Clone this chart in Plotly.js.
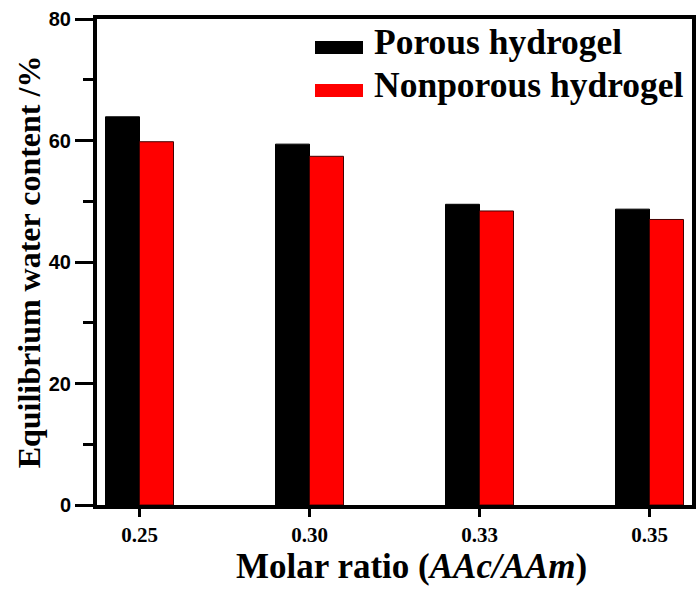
<!DOCTYPE html>
<html>
<head>
<meta charset="utf-8">
<script src="https://cdn.plot.ly/plotly-3.0.1.min.js"></script>
<style>html,body{margin:0;padding:0;background:#fff;}#chart{width:696px;height:590px;}</style>
</head>
<body>
<div id="chart"></div>
<script>
const categories = ["0.25", "0.30", "0.33", "0.35"];
const porous = [63.9, 59.4, 49.5, 48.7];
const nonporous = [59.8, 57.4, 48.4, 47.0];
const seriesNames = ["Porous hydrogel", "Nonporous hydrogel"];
const seriesColors = ["#000000", "#ff0000"];
const yTicks = [0, 20, 40, 60, 80];

const L = 97, R = 692, T = 19, B = 505;
const px = x => (x - L) / (R - L);
const py = y => (B - y) / (B - T);

const serif = "Liberation Serif, Times New Roman, serif";
const sans = "Liberation Sans, Arial, sans-serif";

const traces = [
  {type: "bar", x: categories, y: porous, name: seriesNames[0],
   marker: {color: seriesColors[0], line: {color: "#000", width: 1}}, showlegend: false},
  {type: "bar", x: categories, y: nonporous, name: seriesNames[1],
   marker: {color: seriesColors[1], line: {color: "#400", width: 1}}, showlegend: false}
];

const legendRows = [
  {box: [315, 363, 41, 54], textY: 42},
  {box: [315, 363, 84, 97], textY: 85}
];

const shapes = legendRows.map((r, i) => ({
  type: "rect", xref: "paper", yref: "paper",
  x0: px(r.box[0]), x1: px(r.box[1]), y0: py(r.box[3]), y1: py(r.box[2]),
  fillcolor: seriesColors[i], line: {width: 0}
}));

const annotations = legendRows.map((r, i) => ({
  xref: "paper", yref: "paper", x: px(372), y: py(r.textY),
  xanchor: "left", yanchor: "middle", showarrow: false,
  text: seriesNames[i], font: {family: serif, size: 35.5, color: "#000", weight: "bold"}
}));
annotations.push({
  xref: "paper", yref: "paper", x: px(411), y: py(566),
  xanchor: "center", yanchor: "middle", showarrow: false,
  text: "<b>Molar ratio (<i>AAc/AAm</i>)</b>",
  font: {family: serif, size: 35, color: "#000"}
});

const layout = {
  width: 696, height: 590,
  margin: {l: L, r: 696 - R, t: T, b: 590 - B},
  paper_bgcolor: "#fff", plot_bgcolor: "#fff",
  barmode: "group", bargap: 0.6, bargroupgap: 0,
  showlegend: false,
  xaxis: {
    type: "category", range: [-0.25, 3.25],
    showline: true, linecolor: "#000", linewidth: 4, mirror: true,
    ticks: "outside", ticklen: 8, tickwidth: 3, tickcolor: "#000",
    showgrid: false, zeroline: false,
    tickfont: {family: serif, size: 21, color: "#000", weight: "bold"}
  },
  yaxis: {
    range: [0, 80], tickvals: yTicks, ticktext: yTicks.map(String),
    showline: true, linecolor: "#000", linewidth: 4, mirror: true,
    ticks: "outside", ticklen: 18, tickwidth: 3, tickcolor: "#000",
    minor: {dtick: 10, tick0: 0, ticks: "outside", ticklen: 10, tickwidth: 3, tickcolor: "#000"},
    showgrid: false, zeroline: false,
    tickfont: {family: sans, size: 20, color: "#000", weight: "bold"},
    title: {text: "<b>Equilibrium water content /%</b>", standoff: 0,
            font: {family: serif, size: 32, color: "#000"}}
  },
  shapes: shapes,
  annotations: annotations
};

Plotly.newPlot("chart", traces, layout, {displayModeBar: false, staticPlot: true});
</script>
</body>
</html>
